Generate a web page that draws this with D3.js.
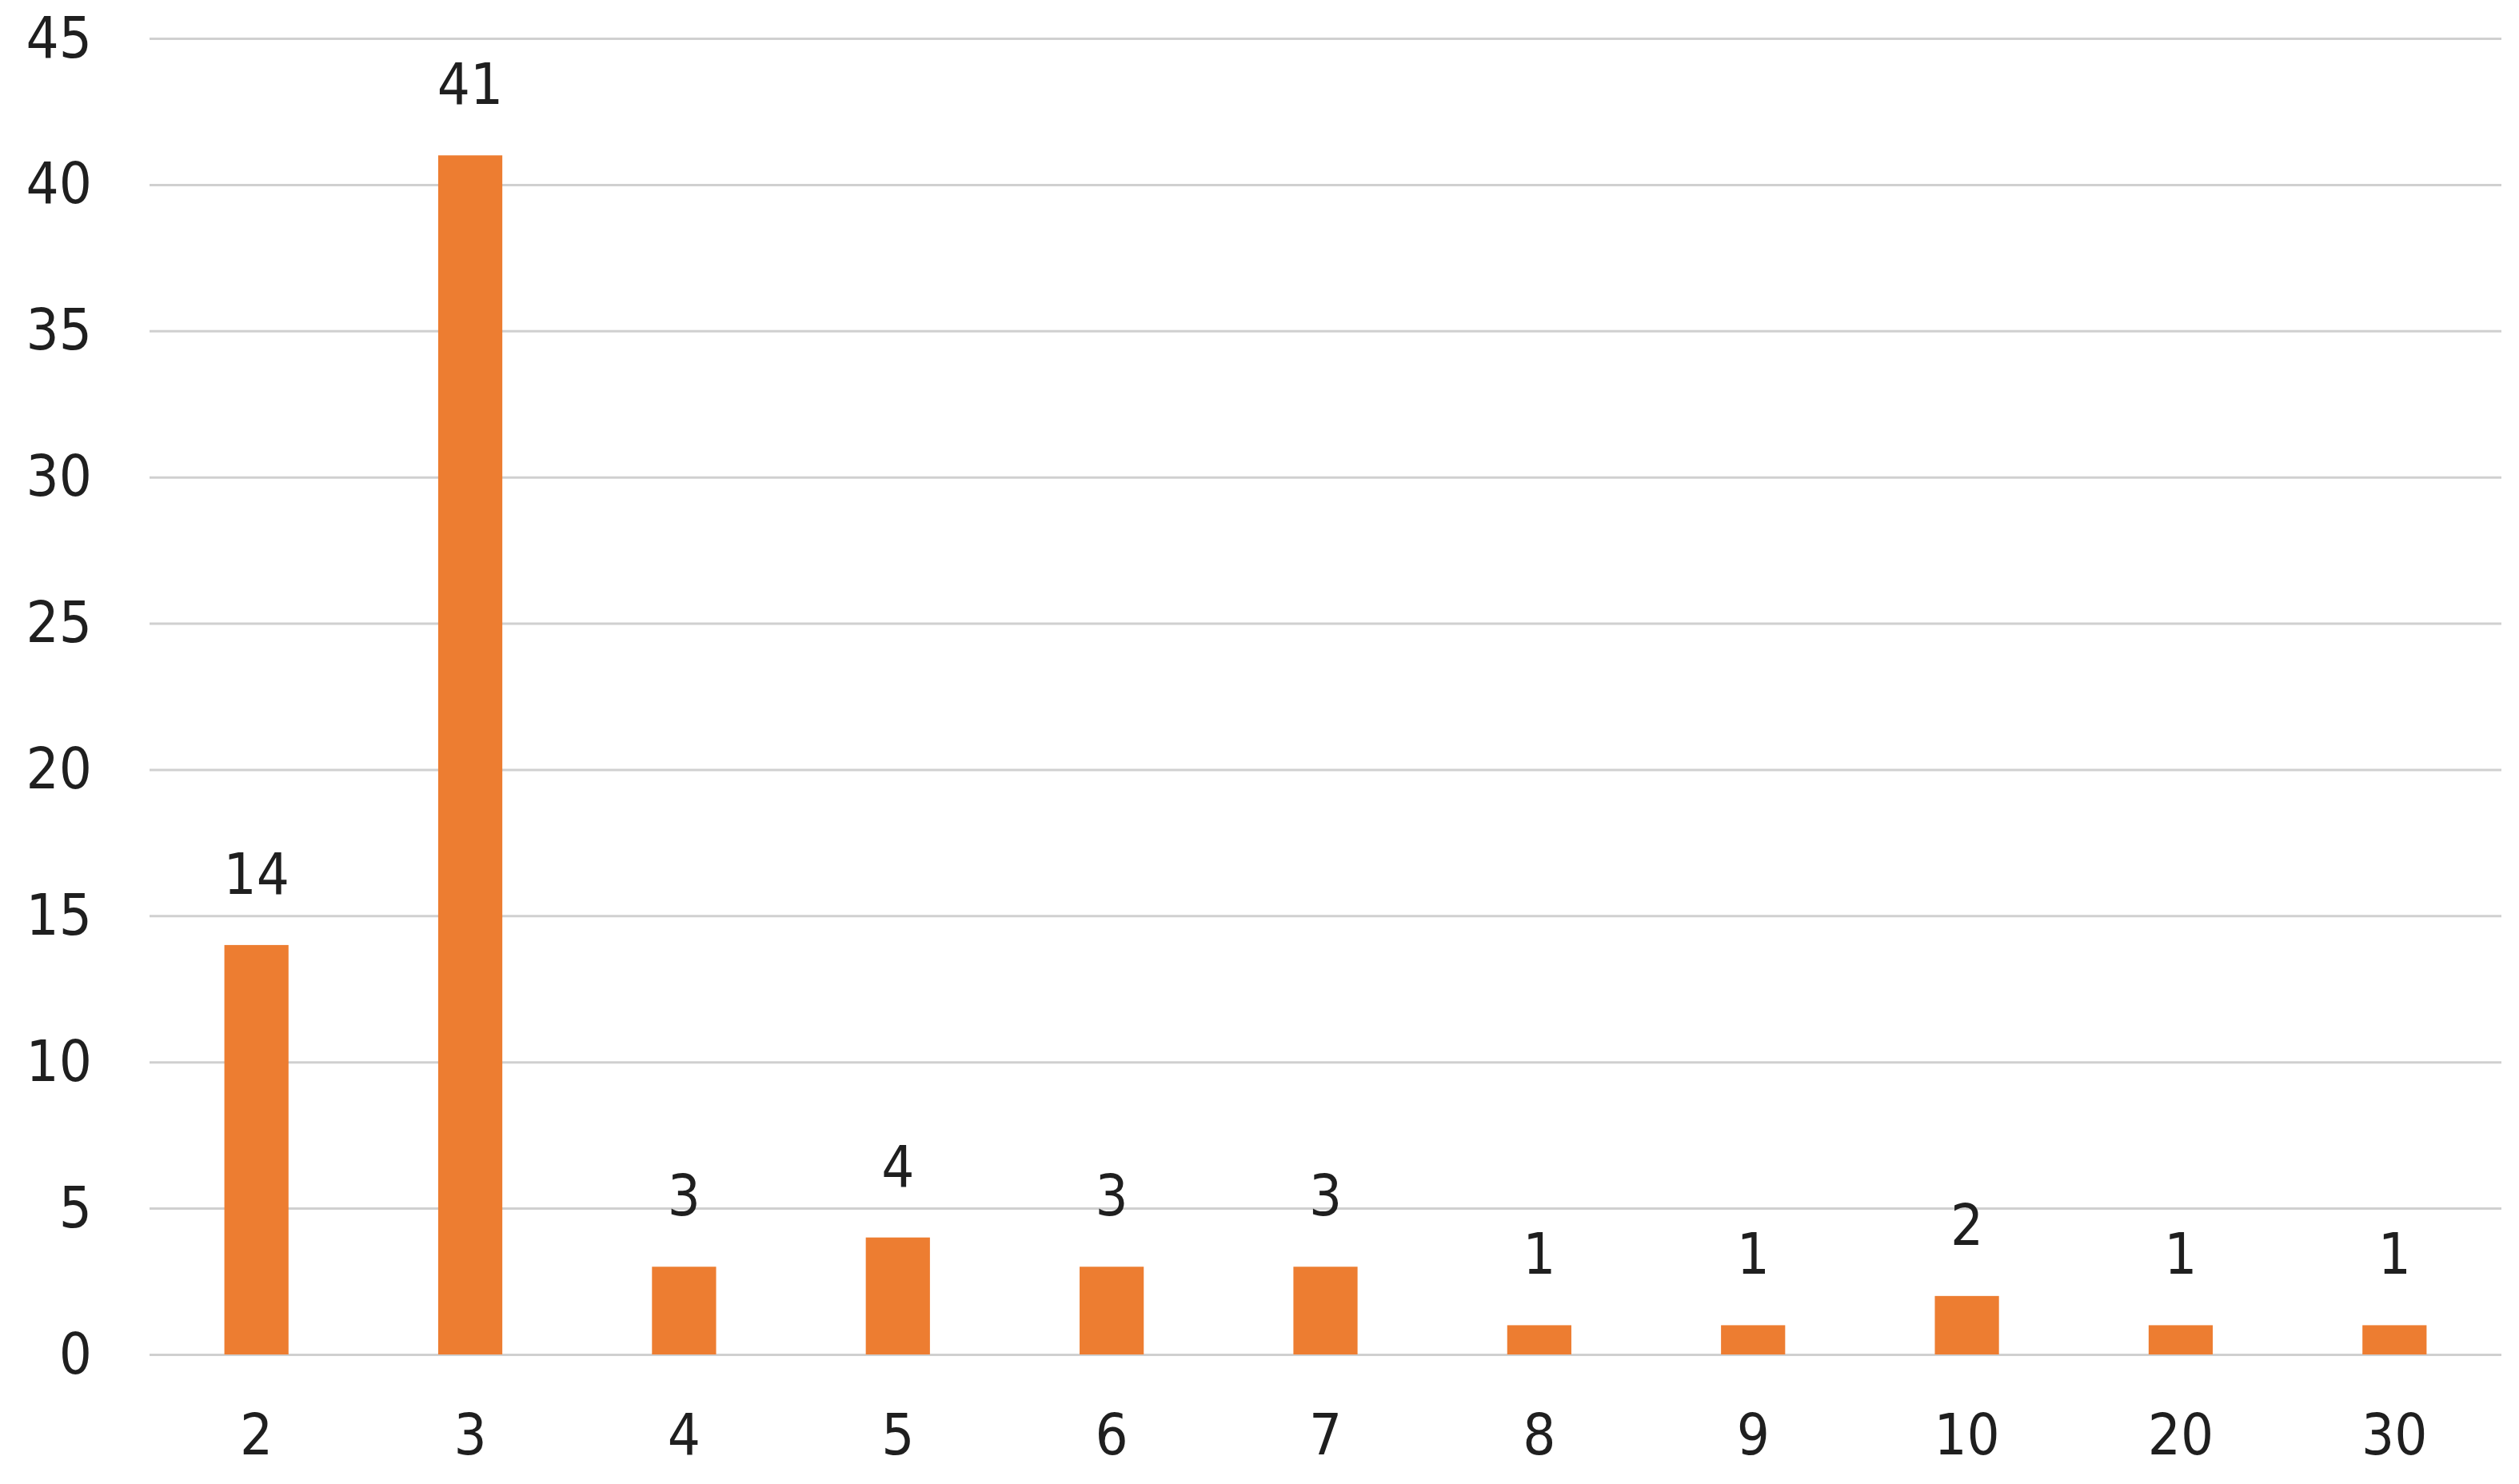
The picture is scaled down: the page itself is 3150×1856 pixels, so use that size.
<!DOCTYPE html>
<html>
<head>
<meta charset="utf-8">
<script src="https://cdn.jsdelivr.net/npm/d3@7"></script>
<style>
  html, body { margin: 0; padding: 0; background: #ffffff; }
  svg { display: block; }
</style>
</head>
<body>
<svg id="chart" width="3150" height="1856"></svg>
<script>
const categories = ["2", "3", "4", "5", "6", "7", "8", "9", "10", "20", "30"];
const values = [14, 41, 3, 4, 3, 3, 1, 1, 2, 1, 1];
const yTicks = [0, 5, 10, 15, 20, 25, 30, 35, 40, 45];

const W = 3150, H = 1856;
const margin = { left: 187, right: 22, top: 48, bottom: 162 };
const fontFamily = "'DejaVu Sans Condensed', 'DejaVu Sans', sans-serif";
const textColor = "#1f1f1f";

const svg = d3.select("#chart");

const x = d3.scaleBand()
  .domain(categories)
  .range([margin.left, W - margin.right])
  .paddingInner(0.7)
  .paddingOuter(0.35);

const y = d3.scaleLinear()
  .domain([0, 45])
  .range([H - margin.bottom, margin.top]);

// gridlines
const grid = svg.append("g")
  .attr("transform", `translate(${margin.left},0)`)
  .call(d3.axisLeft(y).tickValues(yTicks).tickSize(-(W - margin.right - margin.left)).tickFormat(""));
grid.select(".domain").remove();
grid.selectAll(".tick line").attr("stroke", "#d0d0d0").attr("stroke-width", 3);

// y axis labels
const yAxis = svg.append("g")
  .attr("transform", `translate(${margin.left},0)`)
  .call(d3.axisLeft(y).tickValues(yTicks).tickSize(0).tickPadding(72));
yAxis.select(".domain").remove();
yAxis.selectAll("text")
  .attr("font-family", fontFamily)
  .attr("font-size", 72)
  .attr("fill", textColor);

// bars
svg.append("g").selectAll("rect")
  .data(categories)
  .join("rect")
  .attr("x", (d) => x(d))
  .attr("width", x.bandwidth())
  .attr("y", (d, i) => y(values[i]))
  .attr("height", (d, i) => y(0) - y(values[i]))
  .attr("fill", "#ed7d31");

// value labels
svg.append("g").selectAll("text")
  .data(categories)
  .join("text")
  .attr("x", (d) => x(d) + x.bandwidth() / 2)
  .attr("y", (d, i) => y(values[i]) - 64)
  .attr("text-anchor", "middle")
  .attr("font-family", fontFamily)
  .attr("font-size", 72)
  .attr("fill", textColor)
  .text((d, i) => values[i]);

// x axis labels
const xAxis = svg.append("g")
  .attr("transform", `translate(0,${y(0)})`)
  .call(d3.axisBottom(x).tickSize(0).tickPadding(74));
xAxis.select(".domain").remove();
xAxis.selectAll("text")
  .attr("font-family", fontFamily)
  .attr("font-size", 72)
  .attr("fill", textColor);
</script>
</body>
</html>
